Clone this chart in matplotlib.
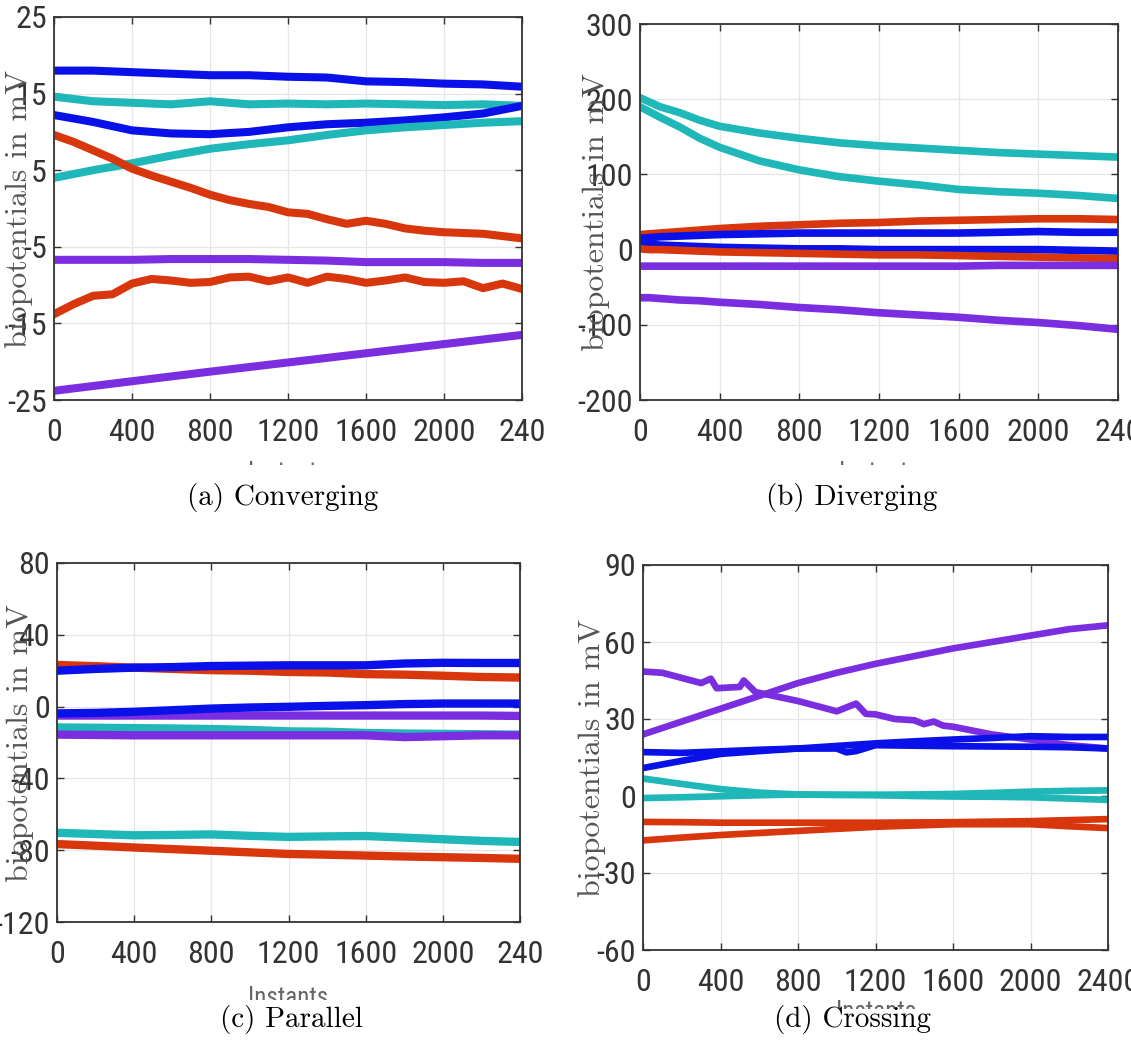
import matplotlib
matplotlib.use('Agg')
import matplotlib.pyplot as plt
from matplotlib import font_manager
from matplotlib.transforms import Bbox, TransformedBbox

# fonts: a narrow sans for the ticks, Computer Modern for the labels
tick_prop = None
for want in ['Liberation Sans Narrow', 'Roboto Condensed', 'Noto Sans Condensed',
             'Open Sans Condensed', 'DejaVu Sans Condensed']:
    for f in font_manager.fontManager.ttflist:
        if f.name == want and f.style == 'normal' and f.weight in (400, 'normal', 'regular'):
            tick_prop = font_manager.FontProperties(fname=f.fname)
            break
    if tick_prop is not None:
        break
if tick_prop is None:
    for f in font_manager.fontManager.ttflist:
        if f.stretch in ('condensed', 'semi-condensed') and f.style == 'normal' \
                and f.weight in (400, 'normal', 'regular') and 'Mono' not in f.name \
                and 'Serif' not in f.name:
            tick_prop = font_manager.FontProperties(fname=f.fname)
            break
if tick_prop is None:
    tick_prop = font_manager.FontProperties(family='Liberation Sans')
names = set(f.name for f in font_manager.fontManager.ttflist)
serif_font = 'cmr10' if 'cmr10' in names else 'DejaVu Serif'

BLUE = '#0a10e8'
CYAN = '#1fb7b7'
RED = '#d8360c'
PURPLE = '#7b2ee0'

x200 = [0, 200, 400, 600, 800, 1000, 1200, 1400, 1600, 1800, 2000, 2200, 2400]
x100 = list(range(0, 2401, 100))

# (a) Converging
a_blue1 = [18.0, 18.0, 17.8, 17.6, 17.4, 17.4, 17.2, 17.1, 16.6, 16.5, 16.3, 16.2, 15.9]
a_cyan1 = [14.6, 14.0, 13.8, 13.6, 14.0, 13.6, 13.7, 13.6, 13.7, 13.6, 13.5, 13.6, 13.4]
a_blue2 = [12.2, 11.3, 10.2, 9.8, 9.7, 10.0, 10.6, 11.0, 11.2, 11.5, 11.9, 12.4, 13.4]
a_cyan2 = [4.0, 5.0, 5.9, 6.9, 7.8, 8.4, 8.9, 9.6, 10.2, 10.6, 10.9, 11.2, 11.4]
a_red1 = [9.6, 8.7, 7.6, 6.5, 5.2, 4.3, 3.5, 2.7, 1.8, 1.1, 0.6, 0.2, -0.5, -0.7, -1.4,
          -2.0, -1.6, -2.0, -2.6, -2.9, -3.1, -3.2, -3.3, -3.6, -3.9]
a_purple1 = [-6.7, -6.7, -6.7, -6.6, -6.6, -6.6, -6.7, -6.8, -7.0, -7.0, -7.0, -7.1, -7.1]
a_red2 = [-13.8, -12.5, -11.4, -11.2, -9.8, -9.2, -9.4, -9.7, -9.6, -9.0, -8.9, -9.5, -9.0,
          -9.7, -8.9, -9.2, -9.7, -9.4, -9.0, -9.6, -9.7, -9.5, -10.4, -9.8, -10.5]
a_x_purple2 = [0, 800, 1600, 2400]
a_purple2 = [-23.8, -21.3, -18.9, -16.5]

# (b) Diverging
xb = [0, 50, 100, 200, 300, 400, 600, 800, 1000, 1200, 1400, 1600, 1800, 2000, 2200, 2400]
b_cyan1 = [202, 196, 190, 182, 172, 164, 155, 148, 142, 138, 135, 132, 129, 127, 125, 123]
b_cyan2 = [190, 183, 176, 163, 148, 136, 118, 106, 97, 91, 86, 80, 77, 75, 72, 68]
b_red1 = [20, 21, 22, 24, 26, 28, 31, 33, 35, 36, 38, 39, 40, 41, 41, 40]
b_blue1 = [15, 16, 17, 18, 19, 20, 21, 22, 22, 22, 22, 22, 23, 24, 23, 23]
b_blue2 = [7, 7, 6, 5, 4, 3, 2, 1, 1, 0, 0, 0, 0, 0, -1, -2]
b_red2 = [1, 0, 0, -1, -2, -3, -4, -5, -6, -7, -7, -8, -9, -10, -11, -12]
b_purple1 = [-22, -22, -22, -22, -22, -22, -22, -22, -22, -22, -22, -22, -21, -21, -21, -21]
b_purple2 = [-64, -64, -65, -67, -68, -70, -73, -77, -80, -84, -87, -90, -94, -97, -101, -106]

# (c) Parallel
c_blue1 = [20, 21, 21.7, 22, 22.6, 22.8, 23, 23, 23, 24, 24.4, 24.3, 24.3]
c_red1 = [23.2, 22.5, 21.7, 21, 20.3, 20, 19.3, 19, 18.1, 17.8, 17.2, 16.5, 16.2]
c_blue2 = [-3.8, -3.5, -2.9, -2, -1.1, -0.5, -0.1, 0.4, 0.8, 1.4, 1.7, 1.7, 1.7]
c_purple1 = [-5, -5, -5, -5, -5, -5, -5, -5, -5, -5, -5, -5, -5.2]
c_cyan1 = [-11.6, -11.8, -12, -12.2, -12.5, -13, -13.8, -14, -14.7, -15, -15.2, -15.4, -15.6]
c_purple2 = [-15.6, -15.8, -16, -16, -16, -16, -16, -16, -16, -17, -16.5, -16, -16]
c_cyan2 = [-70.3, -71, -71.7, -71.5, -71.2, -72, -72.6, -72.3, -72.1, -73, -73.9, -74.8, -75.4]
c_red2 = [-76.6, -77.5, -78.5, -79.4, -80.3, -81.2, -82.1, -82.5, -83, -83.5, -83.9, -84.3, -84.8]

# (d) Crossing
d_purple1 = [24, 29, 34, 39, 44, 48, 51.5, 54.5, 57.5, 60, 62.5, 65, 66.5]
d_x_purple2 = [0, 100, 300, 350, 380, 500, 520, 580, 800, 1000, 1100, 1150, 1200, 1300,
               1400, 1450, 1500, 1550, 1600, 1800, 2000, 2200, 2400]
d_purple2 = [48.5, 48, 44, 45.7, 42, 42.5, 45, 40.5, 37, 33, 36, 32, 31.8, 30,
             29.5, 28, 29, 27.4, 27, 24, 22, 19.8, 18.5]
d_blue1 = [17.1, 16.8, 17.4, 18, 18.5, 19.5, 20.5, 21.3, 22, 22.6, 23.3, 23, 23]
d_x_blue2 = [0, 200, 400, 600, 800, 1000, 1050, 1100, 1200, 1400, 1600, 1800, 2000, 2200, 2400]
d_blue2 = [10.9, 13.7, 16.4, 17.5, 18.5, 18.5, 17, 17.5, 19.8, 19.6, 19.4, 19.3, 19.2, 19, 18.5]
d_cyan1 = [6.8, 4.7, 2.7, 1.3, 0.6, 0.5, 0.5, 0.6, 0.8, 1.2, 1.7, 2, 2.2]
d_cyan2 = [-0.8, -0.5, -0.1, 0.3, 0.6, 0.4, 0.3, 0, -0.2, -0.3, -0.5, -1, -1.5]
d_red1 = [-10.1, -10.2, -10.4, -10.4, -10.4, -10.4, -10.4, -10.3, -10.2, -10, -9.8, -9.4, -9]
d_red2 = [-17.3, -16.2, -15.2, -14.4, -13.6, -12.8, -12, -11.5, -11, -11, -11, -11.8, -12.5]

x_ticks = [0, 400, 800, 1200, 1600, 2000, 2400]
x_labels_cut = ['0', '400', '800', '1200', '1600', '2000', '240']
x_labels_full = ['0', '400', '800', '1200', '1600', '2000', '2400']

W, H = 1131, 1048
fig = plt.figure(figsize=(W / 100, H / 100), dpi=100)


def px_axes(left, right, top, bottom):
    return fig.add_axes([left / W, 1 - bottom / H, (right - left) / W, (bottom - top) / H])


def style(ax, yticks, xlabels, label_x):
    ax.set_xlim(0, 2400)
    ax.set_ylim(yticks[0], yticks[-1])
    ax.set_xticks(x_ticks)
    ax.set_xticklabels(xlabels)
    ax.set_yticks(yticks)
    ax.set_yticklabels([str(v) for v in yticks])
    ax.grid(True, color='#e6e6e6', linewidth=0.9)
    ax.set_axisbelow(True)
    ax.tick_params(direction='in', top=True, right=True, length=5, width=1.0,
                   colors='#333333', pad=5)
    ax.tick_params(axis='x', pad=13)
    for lab in ax.get_xticklabels() + ax.get_yticklabels():
        lab.set_fontproperties(tick_prop)
        lab.set_fontsize(23)
    for s in ax.spines.values():
        s.set_color('#333333')
        s.set_linewidth(1.3)
    ax.text(label_x, 0.5, 'biopotentials in mV', transform=ax.transAxes, rotation=90,
            ha='center', va='center', fontsize=23, color='#555555', fontfamily=serif_font)


def instants(xc, ytop, yclip):
    t = fig.text(xc / W, 1 - ytop / H, 'Instants', ha='center', va='top',
                 color='#666666', fontproperties=tick_prop)
    t.set_fontsize(18)
    clip = TransformedBbox(Bbox.from_extents(0, 1 - yclip / H, 1, 1), fig.transFigure)
    t.set_clip_box(clip)
    t.set_clip_on(True)


# (a)
ax = px_axes(54, 522, 17, 400)
ax.plot(x200, a_blue1, color=BLUE, lw=5.8)
ax.plot(x200, a_cyan1, color=CYAN, lw=5.8)
ax.plot(x200, a_blue2, color=BLUE, lw=5.8)
ax.plot(x200, a_cyan2, color=CYAN, lw=5.8)
ax.plot(x100, a_red1, color=RED, lw=5.8)
ax.plot(x200, a_purple1, color=PURPLE, lw=5.8)
ax.plot(x100, a_red2, color=RED, lw=5.8)
ax.plot(a_x_purple2, a_purple2, color=PURPLE, lw=5.8)
style(ax, [-25, -15, -5, 5, 15, 25], x_labels_cut, -0.075)
instants(288, 461, 465)

# (b)
ax = px_axes(640, 1118, 24, 400)
for ys, c in [(b_cyan1, CYAN), (b_cyan2, CYAN), (b_red1, RED), (b_blue1, BLUE),
              (b_blue2, BLUE), (b_red2, RED), (b_purple1, PURPLE), (b_purple2, PURPLE)]:
    ax.plot(xb, ys, color=c, lw=5.5)
style(ax, [-200, -100, 0, 100, 200, 300], x_labels_cut, -0.092)
instants(879, 461, 465)

# (c)
ax = px_axes(57, 520, 563, 922)
for ys, c in [(c_cyan2, CYAN), (c_red2, RED), (c_purple1, PURPLE), (c_cyan1, CYAN),
              (c_purple2, PURPLE), (c_blue2, BLUE), (c_red1, RED), (c_blue1, BLUE)]:
    ax.plot(x200, ys, color=c, lw=6)
style(ax, [-120, -80, -40, 0, 40, 80], x_labels_cut, -0.079)
instants(288, 986, 1000)

# (d)
ax = px_axes(643, 1108, 565, 950)
ax.plot(x200, d_purple1, color=PURPLE, lw=4.8)
ax.plot(d_x_purple2, d_purple2, color=PURPLE, lw=4.8)
ax.plot(x200, d_blue1, color=BLUE, lw=4.8)
ax.plot(d_x_blue2, d_blue2, color=BLUE, lw=4.8)
ax.plot(x200, d_cyan1, color=CYAN, lw=4.8)
ax.plot(x200, d_cyan2, color=CYAN, lw=4.8)
ax.plot(x200, d_red1, color=RED, lw=4.8)
ax.plot(x200, d_red2, color=RED, lw=4.8)
style(ax, [-60, -30, 0, 30, 60, 90], x_labels_full, -0.11)
instants(876, 1000, 1009)

# captions
for xc, yc, txt in [(283, 497, '(a) Converging'), (852, 497, '(b) Diverging'),
                    (292, 1020, '(c) Parallel'), (852, 1020, '(d) Crossing')]:
    fig.text(xc / W, 1 - yc / H, txt, ha='center', va='center', fontsize=21,
             color='black', fontfamily=serif_font)

fig.savefig('out.png', dpi=100)
